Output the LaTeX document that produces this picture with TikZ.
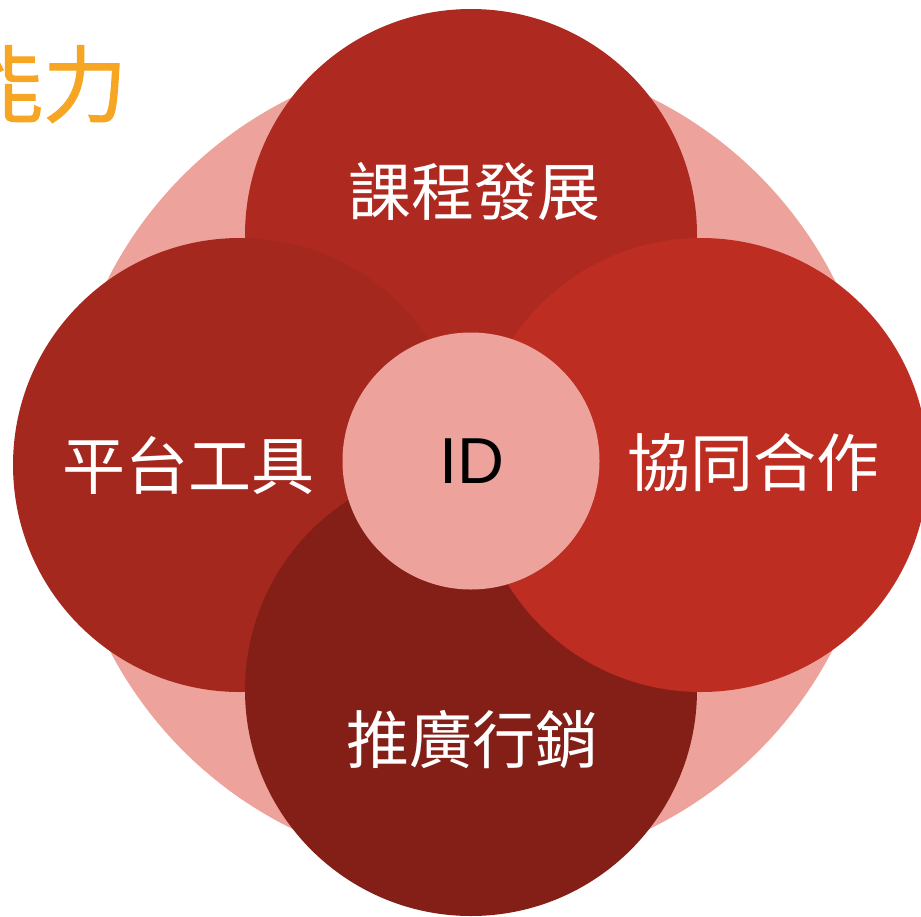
\documentclass[tikz,border=0pt]{standalone}
\usepackage{fontspec}
\newfontfamily\cjk{Noto Sans CJK TC}
\newfontfamily\cjkbold[FakeBold=1.2]{Noto Sans CJK TC}
\newfontfamily\latinsans{Liberation Sans}
\definecolor{pinkc}{RGB}{237,163,156}
\definecolor{topc}{RGB}{174,42,33}
\definecolor{leftc}{RGB}{165,40,31}
\definecolor{rightc}{RGB}{189,45,33}
\definecolor{botc}{RGB}{132,31,24}
\definecolor{orangec}{RGB}{246,166,35}
\begin{document}
\begin{tikzpicture}[x=1pt,y=-1pt,
  disc/.style={circle,inner sep=0pt,outer sep=0pt,draw=none},
  lbl/.style={inner sep=0pt,text=white,font=\cjk\fontsize{63}{63}\selectfont}]
\useasboundingbox (0,0) rectangle (921,916);
\begin{scope}
\clip (0,0) rectangle (921,916);
\node[disc,fill=pinkc,minimum size=814pt] (ring) at (471,463) {};
\node[disc,fill=topc,minimum size=452pt] (topd) at (471,235) {};
\node[disc,fill=leftc,minimum size=454pt] (leftd) at (240,465) {};
\node[disc,fill=botc,minimum size=452pt] (botd) at (471,690) {};
\node[disc,fill=rightc,minimum size=454pt] (rightd) at (701,465) {};
\node[disc,fill=pinkc,minimum size=257pt] (core) at (471,461) {};
\end{scope}
\node[lbl] (t1) at (474,191) {課程發展};
\node[lbl] (t2) at (188,465) {平台工具};
\node[lbl] (t3) at (753,463) {協同合作};
\node[lbl] (t4) at (472,740) {推廣行銷};
\node[inner sep=0pt,font=\latinsans\fontsize{65}{65}\selectfont] (id) at (472,461) {ID};
\node[inner sep=0pt,text=orangec,font=\cjkbold\fontsize{84}{84}\selectfont] (title) at (43,84) {能力};
\end{tikzpicture}
\end{document}
